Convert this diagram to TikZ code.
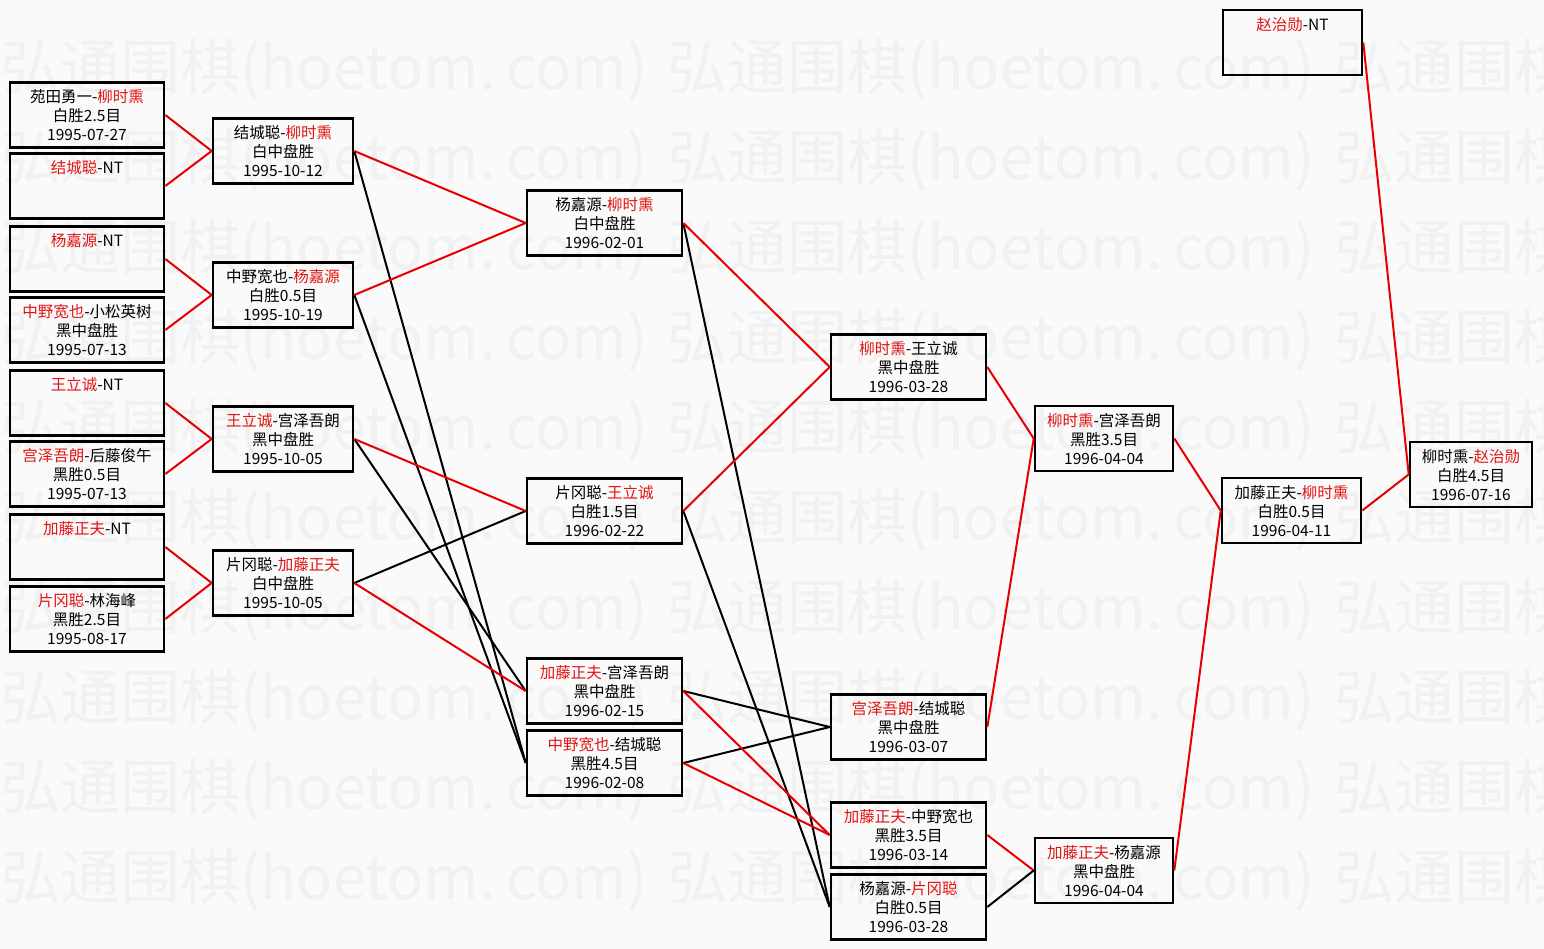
\documentclass[tikz,border=0pt]{standalone}
\usepackage{fontspec}
\setmainfont{Noto Sans CJK SC}
\definecolor{bgc}{RGB}{250,250,250}
\definecolor{wmc}{RGB}{241,241,241}
\definecolor{nred}{RGB}{225,20,20}
\definecolor{lred}{RGB}{232,0,0}
\newcommand{\rn}[1]{\textcolor{nred}{#1}}
\newcommand{\lstrut}{\rule[-2.7pt]{0pt}{19pt}}
\newcommand{\tl}[3]{\lstrut #1\\\lstrut #2\\\lstrut #3}
\begin{document}
\begin{tikzpicture}[x=1pt,y=-1pt,
  gbox/.style={draw=black, line width=2.6pt, minimum height=65pt, inner sep=0pt,
               align=center, font=\fontsize{15.5}{19}\selectfont},
  wa/.style={gbox, minimum width=154pt},
  wb/.style={gbox, minimum width=140pt},
  wc/.style={gbox, minimum width=155pt},
  wd/.style={gbox, minimum width=138pt},
  we/.style={gbox, minimum width=122pt},
  redline/.style={draw=lred, line width=2pt},
  blkline/.style={draw=black, line width=2pt},
  wm/.style={text=wmc, font=\fontsize{60}{60}\selectfont, anchor=west, inner sep=0pt}]
\useasboundingbox (0,0) rectangle (1544,949);
\fill[bgc] (0,0) rectangle (1544,949);
\begin{scope}
\clip (0,0) rectangle (1544,949);
\foreach \r in {0,...,9}{
  \foreach \c in {0,1,2}{
    \node[wm] (wm-\r-\c) at ({\c*667},{70+\r*90}) {弘通围棋(hoetom.\,com)};
  }
}
\end{scope}

% column 1
\node[wa] (a1) at (87,115) {\tl{苑田勇一-\rn{柳时熏}}{白胜2.5目}{1995-07-27}};
\node[wa] (a2) at (87,186) {\tl{\rn{结城聪}-NT}{}{}};
\node[wa] (a3) at (87,259) {\tl{\rn{杨嘉源}-NT}{}{}};
\node[wa] (a4) at (87,330) {\tl{\rn{中野宽也}-小松英树}{黑中盘胜}{1995-07-13}};
\node[wa] (a5) at (87,403) {\tl{\rn{王立诚}-NT}{}{}};
\node[wa] (a6) at (87,474) {\tl{\rn{宫泽吾朗}-后藤俊午}{黑胜0.5目}{1995-07-13}};
\node[wa] (a7) at (87,547) {\tl{\rn{加藤正夫}-NT}{}{}};
\node[wa] (a8) at (87,619) {\tl{\rn{片冈聪}-林海峰}{黑胜2.5目}{1995-08-17}};

% column 2
\node[wb] (b1) at (283,151) {\tl{结城聪-\rn{柳时熏}}{白中盘胜}{1995-10-12}};
\node[wb] (b2) at (283,295) {\tl{中野宽也-\rn{杨嘉源}}{白胜0.5目}{1995-10-19}};
\node[wb] (b3) at (283,439) {\tl{\rn{王立诚}-宫泽吾朗}{黑中盘胜}{1995-10-05}};
\node[wb] (b4) at (283,583) {\tl{片冈聪-\rn{加藤正夫}}{白中盘胜}{1995-10-05}};

% column 3
\node[wc] (c1) at (604.5,223) {\tl{杨嘉源-\rn{柳时熏}}{白中盘胜}{1996-02-01}};
\node[wc] (c2) at (604.5,511) {\tl{片冈聪-\rn{王立诚}}{白胜1.5目}{1996-02-22}};
\node[wc] (c3) at (604.5,691) {\tl{\rn{加藤正夫}-宫泽吾朗}{黑中盘胜}{1996-02-15}};
\node[wc] (c4) at (604.5,763) {\tl{\rn{中野宽也}-结城聪}{黑胜4.5目}{1996-02-08}};

% column 4
\node[wc] (d1) at (908.5,367) {\tl{\rn{柳时熏}-王立诚}{黑中盘胜}{1996-03-28}};
\node[wc] (d2) at (908.5,727) {\tl{\rn{宫泽吾朗}-结城聪}{黑中盘胜}{1996-03-07}};
\node[wc] (d3) at (908.5,835) {\tl{\rn{加藤正夫}-中野宽也}{黑胜3.5目}{1996-03-14}};
\node[wc] (d4) at (908.5,907) {\tl{杨嘉源-\rn{片冈聪}}{白胜0.5目}{1996-03-28}};

% column 5
\node[wd] (e1) at (1104,438.5) {\tl{\rn{柳时熏}-宫泽吾朗}{黑胜3.5目}{1996-04-04}};
\node[wd] (e2) at (1104,870.5) {\tl{\rn{加藤正夫}-杨嘉源}{黑中盘胜}{1996-04-04}};

% column 6
\node[wd, minimum width=139pt] (f1) at (1291.5,510.5) {\tl{加藤正夫-\rn{柳时熏}}{白胜0.5目}{1996-04-11}};
\node[wd, minimum width=139pt] (z1) at (1292.5,42.5) {\tl{\rn{赵治勋}-NT}{}{}};

% column 7
\node[we] (g1) at (1471,474.5) {\tl{柳时熏-\rn{赵治勋}}{白胜4.5目}{1996-07-16}};

% connectors
\draw[redline] (a1.east) -- (b1.west);
\draw[redline] (a2.east) -- (b1.west);
\draw[redline] (a3.east) -- (b2.west);
\draw[redline] (a4.east) -- (b2.west);
\draw[redline] (a5.east) -- (b3.west);
\draw[redline] (a6.east) -- (b3.west);
\draw[redline] (a7.east) -- (b4.west);
\draw[redline] (a8.east) -- (b4.west);

\draw[blkline] (b1.east) -- (c4.west);
\draw[blkline] (b2.east) -- (c4.west);
\draw[blkline] (b3.east) -- (c3.west);
\draw[blkline] (b4.east) -- (c2.west);
\draw[redline] (b1.east) -- (c1.west);
\draw[redline] (b2.east) -- (c1.west);
\draw[redline] (b3.east) -- (c2.west);
\draw[redline] (b4.east) -- (c3.west);

\draw[blkline] (c1.east) -- (d4.west);
\draw[blkline] (c2.east) -- (d4.west);
\draw[blkline] (c3.east) -- (d2.west);
\draw[blkline] (c4.east) -- (d2.west);
\draw[redline] (c1.east) -- (d1.west);
\draw[redline] (c2.east) -- (d1.west);
\draw[redline] (c3.east) -- (d3.west);
\draw[redline] (c4.east) -- (d3.west);

\draw[redline] (d1.east) -- (e1.west);
\draw[redline] (d2.east) -- (e1.west);
\draw[redline] (d3.east) -- (e2.west);
\draw[blkline] (d4.east) -- (e2.west);

\draw[redline] (e1.east) -- (f1.west);
\draw[redline] (e2.east) -- (f1.west);

\draw[redline] (f1.east) -- (g1.west);
\draw[redline] (z1.east) -- (g1.west);
\end{tikzpicture}
\end{document}
